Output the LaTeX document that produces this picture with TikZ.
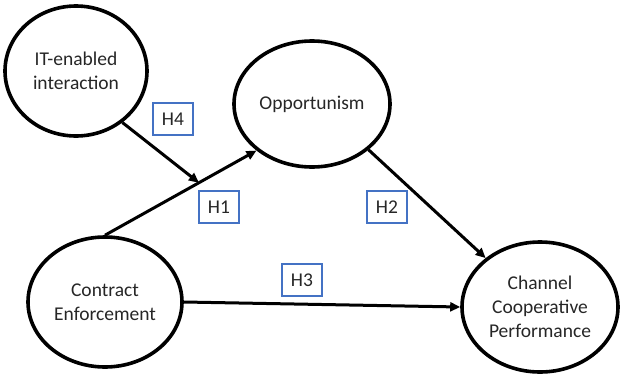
\documentclass[tikz,border=0pt]{standalone}
\usepackage{fontspec}
\setmainfont{Carlito}
\usetikzlibrary{shapes.geometric,arrows.meta}
\definecolor{txt}{RGB}{38,38,38}
\definecolor{hbox}{RGB}{68,114,196}
\tikzset{
  construct/.style={ellipse,draw=black,line width=3.6pt,inner sep=0pt,align=center,
    text=txt,font=\fontsize{19.5pt}{24pt}\selectfont},
  hyp/.style={draw=hbox,line width=1.3pt,minimum width=40pt,minimum height=32pt,inner sep=0pt,
    text=txt,font=\fontsize{19.5pt}{24pt}\selectfont},
  path/.style={line width=3pt,-{Triangle[length=10pt,width=9pt]}}
}
\begin{document}
\begin{tikzpicture}[x=1pt,y=-1pt]
\useasboundingbox (0,0) rectangle (621,375);
\node[construct,minimum width=142pt,minimum height=130pt] (it) at (76,71) {IT-enabled\\interaction};
\node[construct,minimum width=156pt,minimum height=126pt] (opp) at (312,104) {Opportunism};
\node[construct,minimum width=154pt,minimum height=130pt] (ce) at (105,302) {Contract\\Enforcement};
\node[construct,minimum width=156pt,minimum height=130pt] (ch) at (540,307) {Channel\\Cooperative\\Performance};
\node[hyp] (h4) at (173,119) {H4};
\node[hyp] (h1) at (219,207) {H1};
\node[hyp] (h2) at (387,207) {H2};
\node[hyp] (h3) at (302,280) {H3};
\draw[path] (ce.north) -- coordinate[pos=0.62] (mod) (opp.220);
\draw[path] (it.312) -- (mod);
\draw[path] (opp.321) -- (ch.138);
\draw[path] (ce.east) -- (ch.west);
\end{tikzpicture}
\end{document}
